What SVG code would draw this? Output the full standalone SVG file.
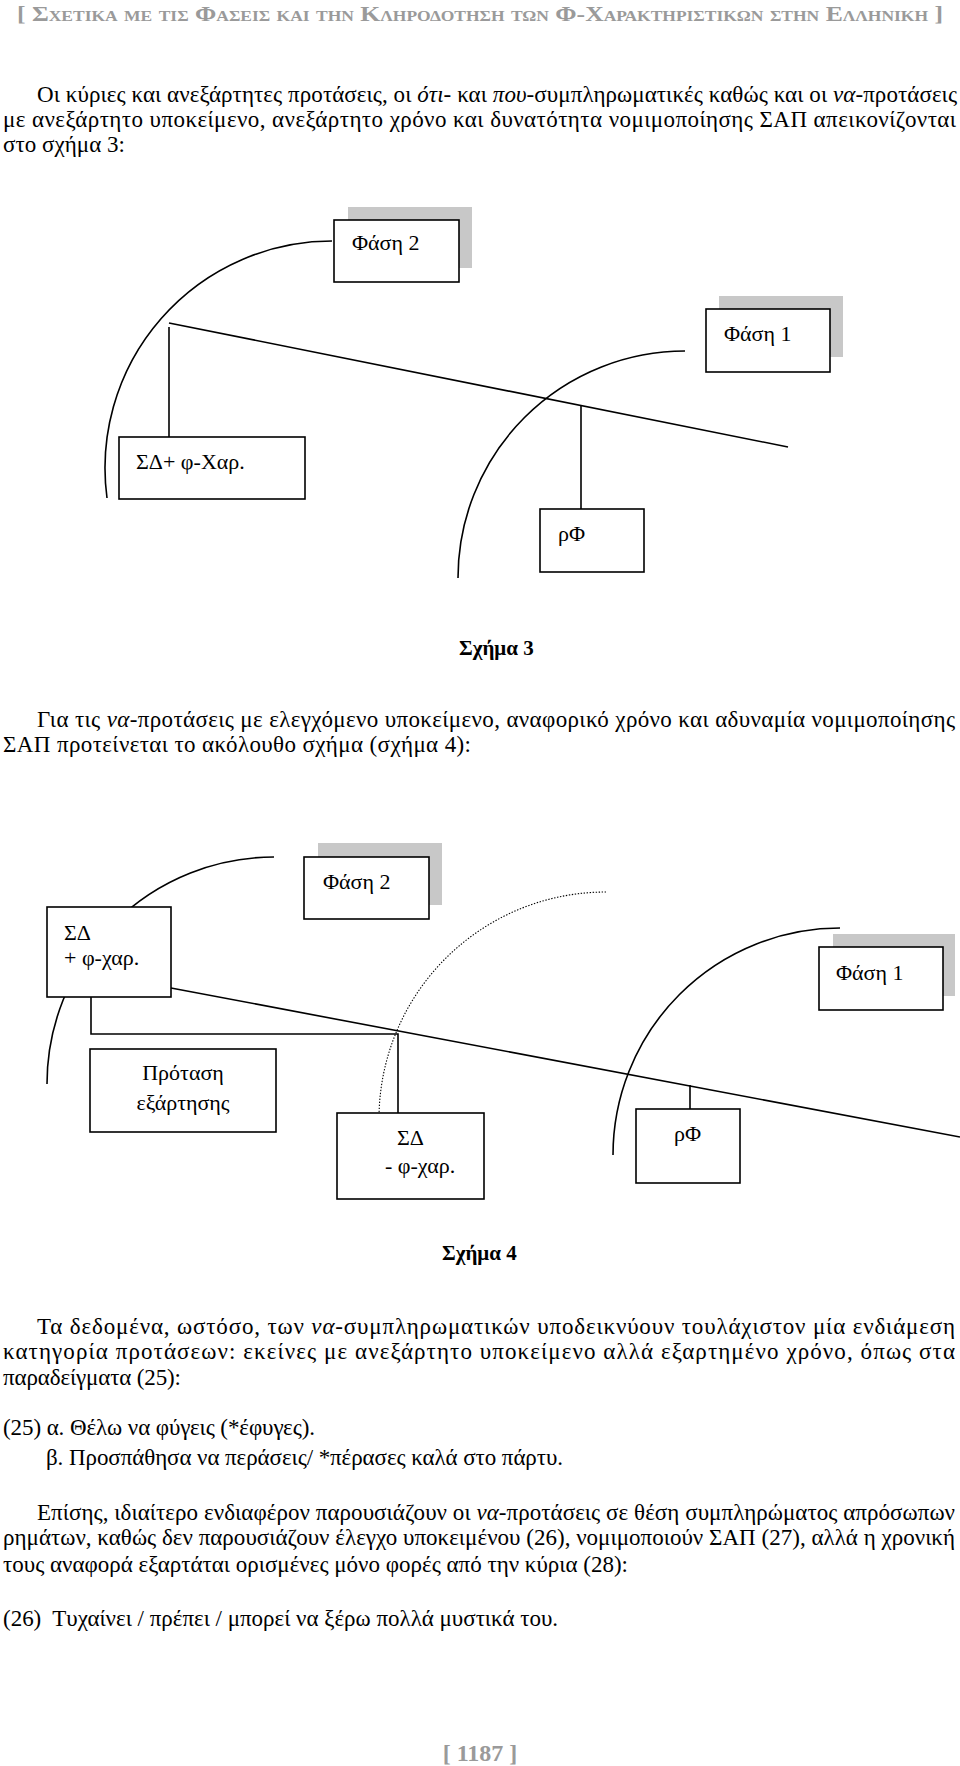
<svg xmlns="http://www.w3.org/2000/svg" width="960" height="1766" viewBox="0 0 960 1766">
<style>
.t{font-size:23px;fill:#000}
.l{font-size:22px;fill:#000}
.i{font-style:italic}
.b{font-weight:bold;font-size:21px;fill:#000}
.g{font-weight:bold;fill:#9a9a9a}
.box{fill:#fff;stroke:#000;stroke-width:1.6}
.sh{fill:#c8c8c8}
.ln{fill:none;stroke:#000;stroke-width:1.6}
.dot{fill:none;stroke:#000;stroke-width:1.1;stroke-dasharray:1.4 1.6}
</style>
<rect width="960" height="1766" fill="#fff"/>
<g font-family="Liberation Serif">
<text class="g" x="17" y="21" font-size="22" font-variant="small-caps" textLength="926" lengthAdjust="spacingAndGlyphs">[ Σχετικα με τις Φασεις και την Κληροδοτηση των Φ-Χαρακτηριστικων στην Ελληνικη ]</text>

<text class="t" x="37" y="102" textLength="920" lengthAdjust="spacing">Οι κύριες και ανεξάρτητες προτάσεις, οι <tspan class="i">ότι</tspan>- και <tspan class="i">που</tspan>-συμπληρωματικές καθώς και οι <tspan class="i">να</tspan>-προτάσεις</text>
<text class="t" x="3" y="127" textLength="953" lengthAdjust="spacing">με ανεξάρτητο υποκείμενο, ανεξάρτητο χρόνο και δυνατότητα νομιμοποίησης ΣΑΠ απεικονίζονται</text>
<text class="t" x="3" y="152" textLength="122" lengthAdjust="spacing">στο σχήμα 3:</text>

<g id="connectors3">
<path class="ln" d="M332,241 A227,227 0 0 0 107,498"/>
<path class="ln" d="M169,323 L788,447"/>
<path class="ln" d="M169,327 L169,437"/>
<path class="ln" d="M685,351 A227,227 0 0 0 458,578"/>
<path class="ln" d="M581,406 L581,509"/>
</g>
<g id="f3-phase2"><rect class="sh" x="348" y="207" width="124" height="61"/><rect class="box" x="334" y="220" width="125" height="62"/><text class="l" x="352" y="250">Φάση 2</text></g>
<g id="f3-phase1"><rect class="sh" x="719" y="296" width="124" height="61"/><rect class="box" x="706" y="309" width="124" height="63"/><text class="l" x="724" y="341">Φάση 1</text></g>
<g id="f3-sd"><rect class="box" x="119" y="437" width="186" height="62"/><text class="l" x="136" y="469">ΣΔ+ φ-Χαρ.</text></g>
<g id="f3-rf"><rect class="box" x="540" y="509" width="104" height="63"/><text class="l" x="558" y="541">ρΦ</text></g>
<text class="b" x="459" y="655">Σχήμα 3</text>

<text class="t" x="37" y="727" textLength="918" lengthAdjust="spacing">Για τις <tspan class="i">να</tspan>-προτάσεις με ελεγχόμενο υποκείμενο, αναφορικό χρόνο και αδυναμία νομιμοποίησης</text>
<text class="t" x="3" y="752" textLength="468" lengthAdjust="spacing">ΣΑΠ προτείνεται το ακόλουθο σχήμα (σχήμα 4):</text>

<g id="connectors4">
<path class="ln" d="M274,857 A227,227 0 0 0 47,1084"/>
<path class="dot" d="M606,892 A227,227 0 0 0 379,1119"/>
<path class="ln" d="M840,928 A227,227 0 0 0 613,1155"/>
<path class="ln" d="M171,988 L960,1137"/>
<path class="ln" d="M91,997 L91,1034 L398,1034 L398,1113"/>
<path class="ln" d="M690,1085 L690,1109"/>
</g>
<g id="f4-phase2"><rect class="sh" x="318" y="843" width="124" height="62"/><rect class="box" x="304" y="857" width="125" height="62"/><text class="l" x="323" y="889">Φάση 2</text></g>
<g id="f4-sdplus"><rect class="box" x="47" y="907" width="124" height="90"/><text class="l" x="64" y="940">ΣΔ</text><text class="l" x="64" y="965">+ φ-χαρ.</text></g>
<g id="f4-phase1"><rect class="sh" x="833" y="934" width="122" height="62"/><rect class="box" x="819" y="947" width="124" height="63"/><text class="l" x="836" y="980">Φάση 1</text></g>
<g id="f4-protasi"><rect class="box" x="90" y="1049" width="186" height="83"/><text class="l" x="183" y="1080" text-anchor="middle">Πρόταση</text><text class="l" x="183" y="1110" text-anchor="middle">εξάρτησης</text></g>
<g id="f4-sdminus"><rect class="box" x="337" y="1113" width="147" height="86"/><text class="l" x="397" y="1145">ΣΔ</text><text class="l" x="385" y="1173">- φ-χαρ.</text></g>
<g id="f4-rf"><rect class="box" x="636" y="1109" width="104" height="74"/><text class="l" x="674" y="1141">ρΦ</text></g>
<text class="b" x="442" y="1260">Σχήμα 4</text>

<text class="t" x="37" y="1334" textLength="918" lengthAdjust="spacing">Τα δεδομένα, ωστόσο, των <tspan class="i">να</tspan>-συμπληρωματικών υποδεικνύουν τουλάχιστον μία ενδιάμεση</text>
<text class="t" x="3" y="1359" textLength="952" lengthAdjust="spacing">κατηγορία προτάσεων: εκείνες με ανεξάρτητο υποκείμενο αλλά εξαρτημένο χρόνο, όπως στα</text>
<text class="t" x="3" y="1385" textLength="178" lengthAdjust="spacing">παραδείγματα (25):</text>
<text class="t" x="3" y="1435" textLength="312" lengthAdjust="spacing">(25) α. Θέλω να φύγεις (*έφυγες).</text>
<text class="t" x="46" y="1465" textLength="517" lengthAdjust="spacing">β. Προσπάθησα να περάσεις/ *πέρασες καλά στο πάρτυ.</text>

<text class="t" x="37" y="1520" textLength="918" lengthAdjust="spacing">Επίσης, ιδιαίτερο ενδιαφέρον παρουσιάζουν οι <tspan class="i">να</tspan>-προτάσεις σε θέση συμπληρώματος απρόσωπων</text>
<text class="t" x="3" y="1545" textLength="952" lengthAdjust="spacing">ρημάτων, καθώς δεν παρουσιάζουν έλεγχο υποκειμένου (26), νομιμοποιούν ΣΑΠ (27), αλλά η χρονική</text>
<text class="t" x="3" y="1572" textLength="625" lengthAdjust="spacing">τους αναφορά εξαρτάται ορισμένες μόνο φορές από την κύρια (28):</text>
<text class="t" x="3" y="1626" textLength="555" lengthAdjust="spacing">(26)&#160; Τυχαίνει / πρέπει / μπορεί να ξέρω πολλά μυστικά του.</text>

<text class="g" x="480" y="1761" font-size="24" text-anchor="middle">[ 1187 ]</text>
</g>
</svg>
